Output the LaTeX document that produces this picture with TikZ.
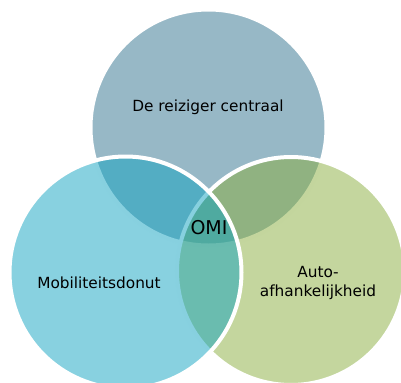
\documentclass[tikz,border=0pt]{standalone}
\usepackage{fontspec}
\setmainfont{DejaVu Sans}
\usepackage{tikz}
\usetikzlibrary{positioning}
\definecolor{reizigerblue}{RGB}{47,113,141}
\definecolor{donutcyan}{RGB}{17,163,193}
\definecolor{autogreen}{RGB}{137,173,61}
\tikzset{venn circle/.style={
    circle,
    draw=white,
    line width=3pt,
    fill opacity=0.5,
    draw opacity=1,
    minimum size=#1,
    inner sep=0pt
  },
  venn circle/.default=174pt,
  venn label/.style={
    text=black,
    align=center,
    inner sep=0pt,
    font=\fontsize{11.5}{13.8}\selectfont
  }
}

\begin{document}
\begin{tikzpicture}[x=0.75pt,y=-0.75pt]
    \useasboundingbox (0,0) rectangle (401,383);
    \clip (0,0) rectangle (401,383);
    \node[venn circle=177pt, fill=reizigerblue] (reiziger) at (208.5,127.5) {};
    \node[venn circle=171pt, fill=autogreen] (auto) at (291,271) {};
    \node[venn circle=174pt, fill=donutcyan] (donut) at (125.5,272.5) {};
    \node[venn label, anchor=base] (reizigertext) at (208,111) {De reiziger centraal};
    \node[venn label, anchor=base] (donuttext) at (99,288.3) {Mobiliteitsdonut};
    \node[venn label] (autotext) at (318,283) {Auto-\\afhankelijkheid};
    \node[venn label, anchor=base, font=\fontsize{14.25}{17}\selectfont] (omi) at (209,234.3) {OMI};
\end{tikzpicture}
\end{document}
